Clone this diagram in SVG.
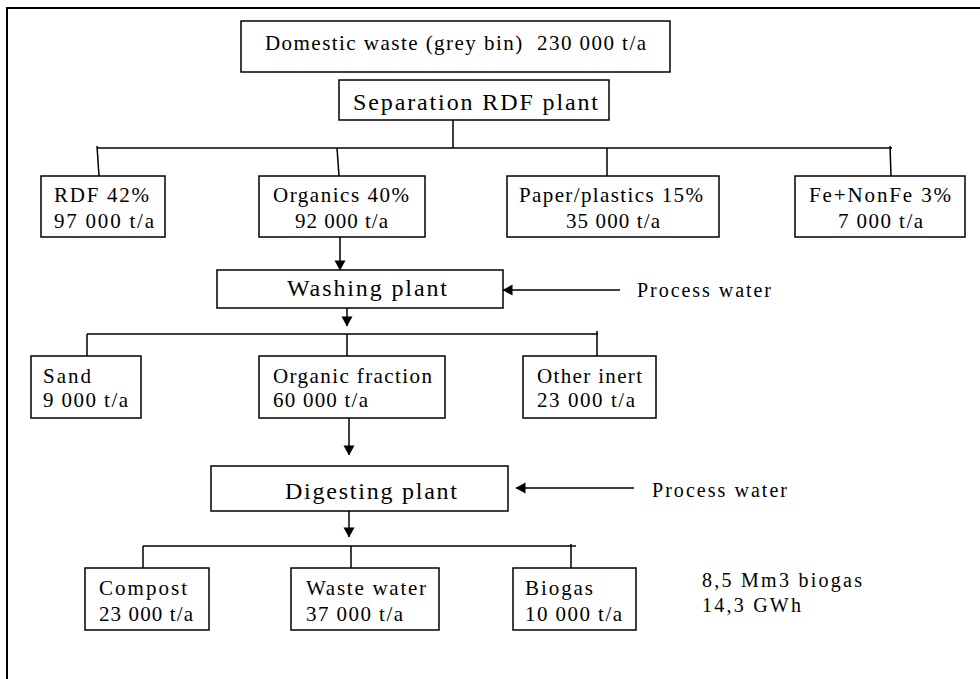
<svg xmlns="http://www.w3.org/2000/svg" width="980" height="679" viewBox="0 0 980 679">
<defs>
<style>
.box{fill:#fff;stroke:#000;stroke-width:1.5}
.ln{fill:none;stroke:#000;stroke-width:1.5}
text{font-family:"Liberation Serif","Times New Roman",serif;font-size:21px;fill:#000}
.big{font-size:24px}
.sm{font-size:20px}
</style>
<marker id="ah" markerUnits="userSpaceOnUse" markerWidth="11" markerHeight="12" viewBox="0 0 10 12" refX="9.5" refY="6" orient="auto">
<path d="M0,0.5 L10,6 L0,11.5 Z" fill="#000"/>
</marker>
</defs>
<rect x="0" y="0" width="980" height="679" fill="#fff"/>
<rect x="7" y="8" width="990" height="690" fill="none" stroke="#000" stroke-width="2"/>

<g id="connectors">
<line class="ln" x1="453" y1="120" x2="453" y2="148"/>
<line class="ln" x1="97" y1="148" x2="892" y2="148"/>
<line class="ln" x1="97" y1="146" x2="99" y2="176"/>
<line class="ln" x1="337" y1="148" x2="339" y2="176"/>
<line class="ln" x1="607" y1="148" x2="607" y2="176"/>
<line class="ln" x1="890" y1="146" x2="891" y2="176"/>
<line class="ln" x1="340" y1="237" x2="340" y2="270" marker-end="url(#ah)"/>
<line class="ln" x1="620" y1="290" x2="503" y2="290" marker-end="url(#ah)"/>
<line class="ln" x1="347" y1="308" x2="347" y2="326" marker-end="url(#ah)"/>
<line class="ln" x1="87" y1="334" x2="598" y2="334"/>
<line class="ln" x1="87" y1="334" x2="87" y2="356"/>
<line class="ln" x1="347" y1="334" x2="347" y2="356"/>
<line class="ln" x1="597" y1="331" x2="597" y2="356"/>
<line class="ln" x1="349" y1="418" x2="349" y2="455" marker-end="url(#ah)"/>
<line class="ln" x1="634" y1="488" x2="516" y2="488" marker-end="url(#ah)"/>
<line class="ln" x1="349" y1="511" x2="349" y2="537" marker-end="url(#ah)"/>
<line class="ln" x1="143" y1="546" x2="576" y2="546"/>
<line class="ln" x1="143" y1="546" x2="143" y2="568"/>
<line class="ln" x1="351" y1="546" x2="351" y2="568"/>
<line class="ln" x1="571" y1="544" x2="571" y2="568"/>
</g>

<g id="domestic">
<rect class="box" x="241" y="21" width="429" height="51"/>
<text x="265" y="50" textLength="381" lengthAdjust="spacing">Domestic waste (grey bin)&#160; 230 000 t/a</text>
</g>
<g id="separation">
<rect class="box" x="339" y="80" width="270" height="40"/>
<text class="big" x="353" y="110" textLength="245" lengthAdjust="spacing">Separation RDF plant</text>
</g>
<g id="rdf">
<rect class="box" x="41" y="176" width="124" height="61"/>
<text x="54" y="202" textLength="95" lengthAdjust="spacing">RDF 42%</text>
<text x="54" y="228" textLength="100" lengthAdjust="spacing">97 000 t/a</text>
</g>
<g id="organics">
<rect class="box" x="259" y="176" width="166" height="61"/>
<text x="273" y="202" textLength="136" lengthAdjust="spacing">Organics 40%</text>
<text x="295" y="228" textLength="93" lengthAdjust="spacing">92 000 t/a</text>
</g>
<g id="paper">
<rect class="box" x="507" y="176" width="212" height="61"/>
<text x="519" y="202" textLength="184" lengthAdjust="spacing">Paper/plastics 15%</text>
<text x="566" y="228" textLength="94" lengthAdjust="spacing">35 000 t/a</text>
</g>
<g id="fe">
<rect class="box" x="795" y="176" width="170" height="61"/>
<text x="809" y="202" textLength="142" lengthAdjust="spacing">Fe+NonFe 3%</text>
<text x="838" y="228" textLength="85" lengthAdjust="spacing">7 000 t/a</text>
</g>
<g id="washing">
<rect class="box" x="217" y="270" width="286" height="38"/>
<text class="big" x="287" y="296" textLength="160" lengthAdjust="spacing">Washing plant</text>
</g>
<g id="water1">
<text class="sm" x="637" y="297" textLength="134" lengthAdjust="spacing">Process water</text>
</g>
<g id="sand">
<rect class="box" x="31" y="356" width="110" height="62"/>
<text x="43" y="383" textLength="48" lengthAdjust="spacing">Sand</text>
<text x="43" y="407" textLength="85" lengthAdjust="spacing">9 000 t/a</text>
</g>
<g id="orgfrac">
<rect class="box" x="259" y="356" width="186" height="62"/>
<text x="273" y="383" textLength="159" lengthAdjust="spacing">Organic fraction</text>
<text x="273" y="407" textLength="95" lengthAdjust="spacing">60 000 t/a</text>
</g>
<g id="inert">
<rect class="box" x="523" y="356" width="133" height="62"/>
<text x="537" y="383" textLength="105" lengthAdjust="spacing">Other inert</text>
<text x="537" y="407" textLength="98" lengthAdjust="spacing">23 000 t/a</text>
</g>
<g id="digesting">
<rect class="box" x="211" y="466" width="297" height="45"/>
<text class="big" x="285" y="499" textLength="172" lengthAdjust="spacing">Digesting plant</text>
</g>
<g id="water2">
<text class="sm" x="652" y="497" textLength="135" lengthAdjust="spacing">Process water</text>
</g>
<g id="compost">
<rect class="box" x="85" y="568" width="124" height="62"/>
<text x="99" y="595" textLength="88" lengthAdjust="spacing">Compost</text>
<text x="99" y="621" textLength="94" lengthAdjust="spacing">23 000 t/a</text>
</g>
<g id="wastewater">
<rect class="box" x="291" y="568" width="148" height="62"/>
<text x="306" y="595" textLength="120" lengthAdjust="spacing">Waste water</text>
<text x="306" y="621" textLength="97" lengthAdjust="spacing">37 000 t/a</text>
</g>
<g id="biogas">
<rect class="box" x="513" y="568" width="123" height="62"/>
<text x="525" y="595" textLength="68" lengthAdjust="spacing">Biogas</text>
<text x="525" y="621" textLength="97" lengthAdjust="spacing">10 000 t/a</text>
</g>
<g id="biogasinfo">
<text class="sm" x="702" y="587" textLength="160" lengthAdjust="spacing">8,5 Mm3 biogas</text>
<text class="sm" x="702" y="612" textLength="99" lengthAdjust="spacing">14,3 GWh</text>
</g>
</svg>
